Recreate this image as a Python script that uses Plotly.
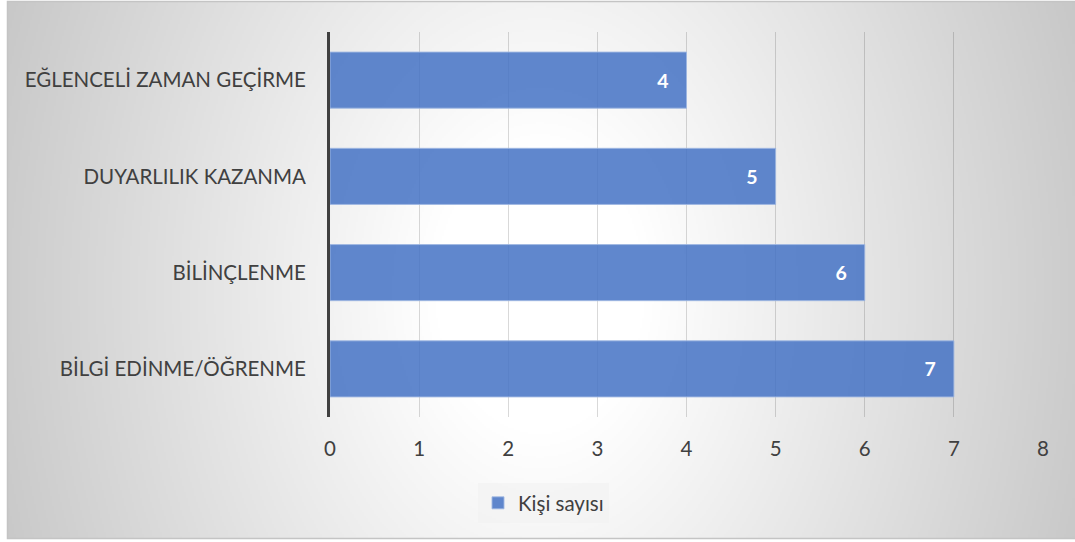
import base64, struct, zlib
import numpy as np
import plotly.graph_objects as go

categories = ["BİLGİ EDİNME/ÖĞRENME", "BİLİNÇLENME", "DUYARLILIK KAZANMA", "EĞLENCELİ ZAMAN GEÇİRME"]
values = [7, 6, 5, 4]
series_name = "Kişi sayısı"
x_ticks = [0, 1, 2, 3, 4, 5, 6, 7, 8]

W, H = 1075, 542
ML, MR, MT, MB = 330, 32, 32, 125
PW, PH = W - ML - MR, H - MT - MB


def gradient_png(w, h):
    xs = (np.arange(w) + 0.5) * (1068.0 / w)
    ys = (np.arange(h) + 0.5) * (538.0 / h)
    X, Y = np.meshgrid(xs, ys)
    dx = (X - 533) / 530.0
    dy = (Y - 289) / 290.0 * 0.4
    d = np.sqrt(dx ** 2 + dy ** 2)
    drop = 50 * np.clip(d - 0.2, 0, None) / 0.8
    img = np.clip(255 - drop, 0, 255).astype(np.uint8)
    raw = b"".join(b"\x00" + img[i].tobytes() for i in range(h))

    def chunk(t, data):
        c = struct.pack(">I", len(data)) + t + data
        return c + struct.pack(">I", zlib.crc32(t + data) & 0xffffffff)

    png = b"\x89PNG\r\n\x1a\n" + chunk(b"IHDR", struct.pack(">IIBBBBB", w, h, 8, 0, 0, 0, 0))
    png += chunk(b"IDAT", zlib.compress(raw, 9)) + chunk(b"IEND", b"")
    return "data:image/png;base64," + base64.b64encode(png).decode()


def px_x(p):
    return (p - ML) / PW


def px_y(p):
    return (H - MB - p) / PH


fig = go.Figure()
fig.add_trace(go.Bar(
    y=categories, x=values, orientation="h", name=series_name,
    marker=dict(color="rgba(68,114,196,0.85)", line=dict(color="rgba(160,184,226,0.9)", width=1)),
    texttemplate="<b>%{x}</b>\u00a0\u00a0\u00a0", textposition="inside", insidetextanchor="end",
    textfont=dict(color="white", size=19.5, family="Lato"),
    showlegend=True,
))

fig.add_layout_image(dict(
    source=gradient_png(534, 269), xref="paper", yref="paper",
    x=px_x(7), y=px_y(1), sizex=(1075 - 7) / PW, sizey=(539 - 1) / PH,
    xanchor="left", yanchor="top", sizing="stretch", layer="below",
))
fig.add_shape(type="rect", xref="paper", yref="paper",
              x0=px_x(7.5), x1=px_x(1080), y0=px_y(538.5), y1=px_y(1.5),
              line=dict(color="#c4c4c4", width=1.5), layer="below")

fig.update_layout(
    width=W, height=H, margin=dict(l=ML, r=MR, t=MT, b=MB),
    paper_bgcolor="white", plot_bgcolor="rgba(0,0,0,0)",
    font=dict(family="Lato", color="#404040", size=20),
    bargap=0.417,
    xaxis=dict(range=[0, 8], tickvals=x_ticks, showgrid=True, gridcolor="rgba(0,0,0,0.15)",
               gridwidth=1, zeroline=False, showline=False, ticklabelstandoff=17,
               tickfont=dict(size=20.5, color="#404040"), fixedrange=True),
    yaxis=dict(showline=True, linecolor="#404040", linewidth=3, showgrid=False,
               ticklabelstandoff=17, tickfont=dict(size=20.5, color="#404040"), fixedrange=True),
    legend=dict(orientation="h", x=px_x(543.5), y=px_y(503), xanchor="center", yanchor="middle",
                bgcolor="rgba(242,242,242,0.7)", font=dict(size=20.5, color="#404040"),
                itemwidth=30, borderwidth=0),
    showlegend=True,
)

fig.write_html("out.html")
